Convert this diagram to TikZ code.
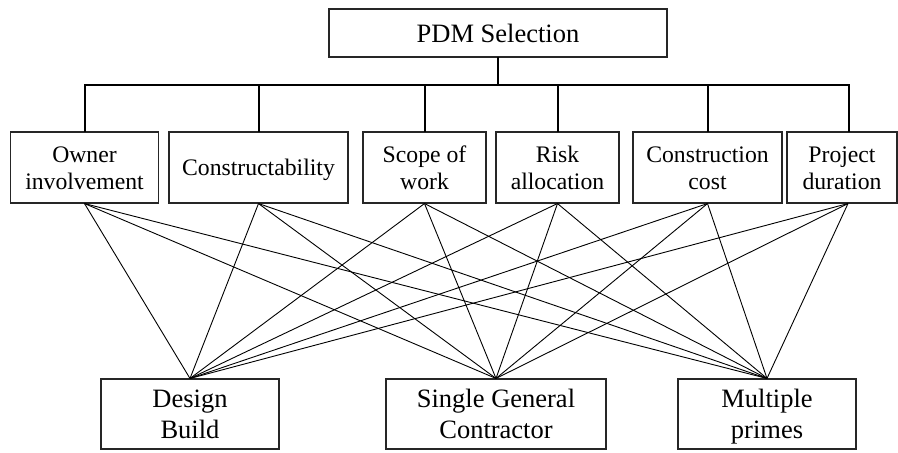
\documentclass[tikz,border=0pt]{standalone}
\usepackage{fontspec}
\setmainfont{Liberation Serif}
\newcommand\mst{\rule[-4.3pt]{0pt}{25.3pt}}
\newcommand\bst{\rule[-6pt]{0pt}{29pt}}
\newcommand\tst{\rule[-5pt]{0pt}{28pt}}
\begin{document}
\begin{tikzpicture}[x=1pt,y=-1pt,
  box/.style={draw=black!85, line width=1.1pt, inner sep=0pt, align=center, anchor=center},
  midbox/.style={box, minimum height=71pt, font=\fontsize{23.7}{27.7}\selectfont},
  bigbox/.style={box, minimum height=70pt, font=\fontsize{26.5}{31}\selectfont},
  tree/.style={line width=2pt, line cap=rect},
  link/.style={line width=0.9pt}]
\useasboundingbox (0,0) rectangle (898,453);
% top
\node[box, minimum width=338pt, minimum height=48pt, font=\fontsize{26.5}{31}\selectfont] (pdm) at (498,33) {\tst PDM Selection};
% criteria
\node[midbox, minimum width=147.5pt] (own) at (84.5,167.5) {\mst Owner\\\mst involvement};
\node[midbox, minimum width=179pt] (con) at (258.5,167.5) {\mst Constructability};
\node[midbox, minimum width=123pt] (sco) at (424.5,167.5) {\mst Scope of\\\mst work};
\node[midbox, minimum width=123pt] (ris) at (557.5,167.5) {\mst Risk\\\mst allocation};
\node[midbox, minimum width=149pt] (cos) at (707.5,167.5) {\mst Construction\\\mst cost};
\node[midbox, minimum width=110pt] (dur) at (842,167.5) {\mst Project\\\mst duration};
% alternatives
\node[bigbox, minimum width=178pt] (db) at (190,414) {\bst Design\\\bst Build};
\node[bigbox, minimum width=220pt] (sgc) at (496,414) {\bst Single General\\\bst Contractor};
\node[bigbox, minimum width=178pt] (mp) at (767,414) {\bst Multiple\\\bst primes};
% tree
\coordinate (barmid) at (498,85);
\coordinate (durtop) at ([xshift=6.5pt]dur.north);
\coordinate (durbot) at ([xshift=6pt]dur.south);
\draw[tree] (pdm.south) -- (barmid);
\draw[tree] (own.north) |- (barmid) -| (durtop);
\foreach \n in {con,sco,ris,cos}{
  \draw[tree] (\n.north) -- (\n.north |- barmid);
}
% links
\foreach \a in {own.south,con.south,sco.south,ris.south,cos.south,durbot}{
  \foreach \b in {db,sgc,mp}{
    \draw[link] (\a) -- (\b.north);
  }
}
\end{tikzpicture}
\end{document}
